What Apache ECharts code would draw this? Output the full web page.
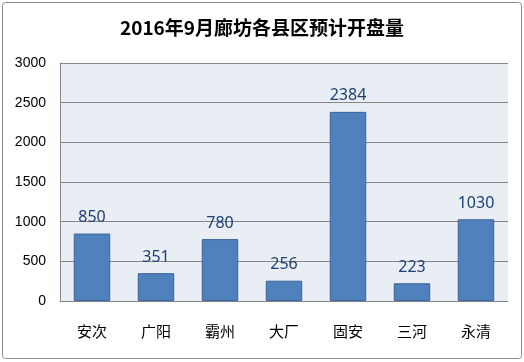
<!DOCTYPE html>
<html><head><meta charset="utf-8">
<script src="https://cdn.jsdelivr.net/npm/echarts@6/dist/echarts.min.js"></script>
<style>html,body{margin:0;padding:0;background:#fff;}#c{width:524px;height:362px;}</style>
</head><body><div id="c"></div>
<script>
const titleText = '2016年9月廊坊各县区预计开盘量';
const categories = ['安次','广阳','霸州','大厂','固安','三河','永清'];
const values = [850, 351, 780, 256, 2384, 223, 1030];
const yTicks = [0, 500, 1000, 1500, 2000, 2500, 3000];

const chart = echarts.init(document.getElementById('c'), null, {renderer:'canvas'});
chart.setOption({
  animation: false,
  backgroundColor: '#fff',
  title: {
    text: titleText, left: 'center', top: 13,
    textStyle: {fontSize: 19, fontWeight: 'bold', color: '#000', fontFamily: 'Noto Sans CJK SC'}
  },
  graphic: [{
    type: 'rect', shape: {x: 2.5, y: 2.5, width: 519, height: 356, r: 3},
    style: {fill: 'none', stroke: '#8c8c8c', lineWidth: 1}, silent: true, z: 100
  }],
  grid: {left: 60, right: 16, top: 63, bottom: 61, show: true, backgroundColor: '#e9edf4', borderWidth: 0},
  xAxis: {
    type: 'category', data: categories,
    axisLine: {show: true, lineStyle: {color: '#868686', width: 1}},
    axisTick: {show: false},
    axisLabel: {color: '#000', fontSize: 15, margin: 23, fontFamily: 'Noto Sans CJK SC'}
  },
  yAxis: {
    type: 'value', min: yTicks[0], max: yTicks[yTicks.length-1], interval: 500,
    axisLine: {show: true, lineStyle: {color: '#868686', width: 1}},
    axisTick: {show: false},
    splitLine: {lineStyle: {color: '#868686', width: 1}},
    axisLabel: {color: '#000', fontSize: 14, margin: 14, fontFamily: 'Liberation Sans', formatter: v => String(v)}
  },
  series: [{
    type: 'bar', data: values, barWidth: '57%',
    itemStyle: {color: '#4f81bd', borderColor: '#3a6596', borderWidth: 1},
    label: {show: true, position: 'top', distance: 8, color: '#1f3f73', fontSize: 16, fontFamily: 'Noto Sans'}
  }]
});
</script></body></html>
